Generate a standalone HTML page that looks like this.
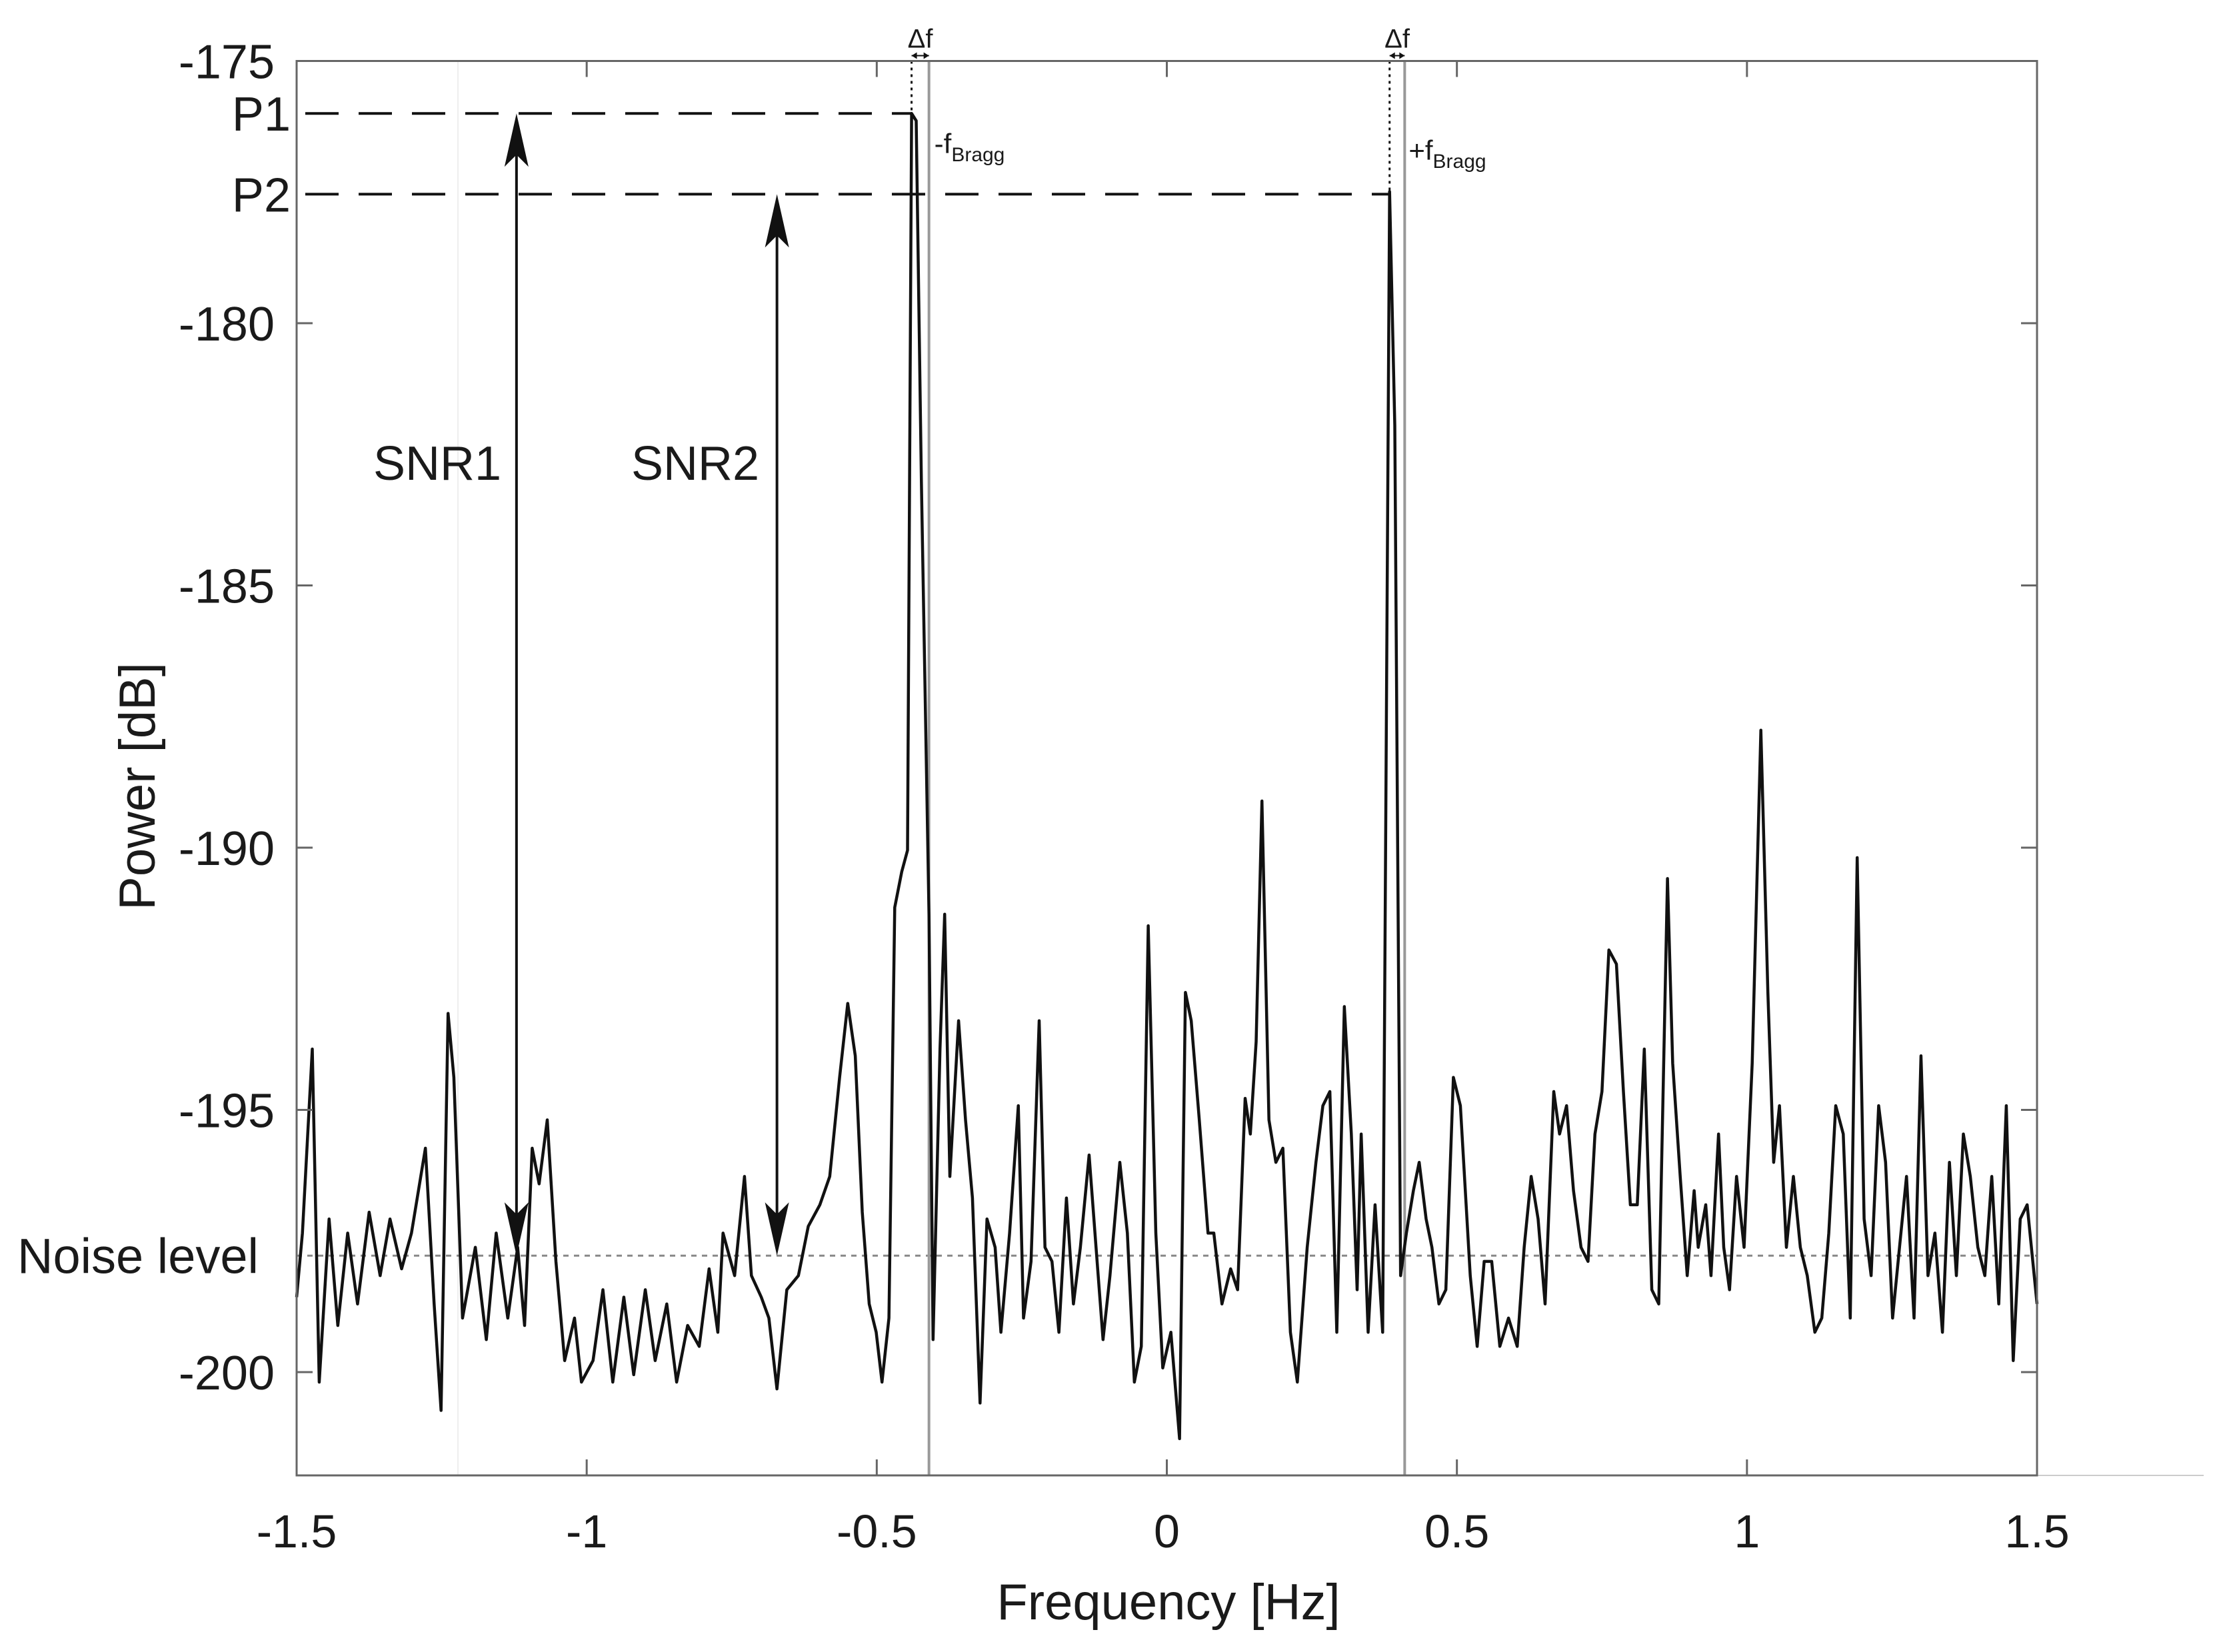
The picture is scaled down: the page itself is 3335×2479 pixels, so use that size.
<!DOCTYPE html>
<html><head><meta charset="utf-8"><style>
html,body{margin:0;padding:0;background:#fff}
svg{display:block}
text{font-family:"Liberation Sans",sans-serif;fill:#1a1a1a}
</style></head><body>
<svg id="chart" width="3335" height="2479" viewBox="0 0 3335 2479" xmlns="http://www.w3.org/2000/svg"></svg>
<script>
const freqs=[-1.500,-1.490,-1.473,-1.461,-1.444,-1.429,-1.412,-1.395,-1.375,-1.356,-1.339,-1.319,-1.302,-1.278,-1.263,-1.251,-1.239,-1.229,-1.214,-1.192,-1.173,-1.156,-1.136,-1.119,-1.107,-1.094,-1.082,-1.068,-1.053,-1.038,-1.021,-1.009,-0.989,-0.972,-0.955,-0.936,-0.919,-0.899,-0.882,-0.862,-0.845,-0.826,-0.806,-0.789,-0.774,-0.765,-0.745,-0.728,-0.716,-0.699,-0.686,-0.672,-0.655,-0.635,-0.618,-0.598,-0.581,-0.564,-0.550,-0.537,-0.525,-0.513,-0.501,-0.491,-0.479,-0.469,-0.457,-0.447,-0.440,-0.432,-0.423,-0.410,-0.403,-0.391,-0.383,-0.374,-0.359,-0.347,-0.335,-0.322,-0.310,-0.296,-0.286,-0.271,-0.256,-0.247,-0.234,-0.220,-0.210,-0.198,-0.186,-0.173,-0.161,-0.149,-0.134,-0.122,-0.110,-0.098,-0.081,-0.068,-0.056,-0.044,-0.032,-0.019,-0.007,0.007,0.022,0.032,0.042,0.056,0.071,0.081,0.095,0.110,0.122,0.135,0.144,0.154,0.164,0.176,0.188,0.200,0.213,0.225,0.242,0.257,0.269,0.281,0.293,0.306,0.318,0.328,0.335,0.347,0.359,0.372,0.384,0.393,0.403,0.413,0.425,0.435,0.447,0.457,0.469,0.481,0.494,0.506,0.523,0.535,0.547,0.560,0.574,0.589,0.604,0.616,0.628,0.640,0.652,0.667,0.677,0.689,0.701,0.714,0.726,0.738,0.750,0.762,0.775,0.787,0.799,0.811,0.823,0.836,0.848,0.863,0.872,0.885,0.897,0.909,0.916,0.929,0.938,0.951,0.960,0.970,0.982,0.995,1.009,1.024,1.036,1.046,1.056,1.068,1.080,1.092,1.104,1.117,1.129,1.141,1.153,1.166,1.178,1.190,1.202,1.214,1.227,1.239,1.251,1.263,1.275,1.288,1.300,1.312,1.324,1.337,1.349,1.361,1.373,1.385,1.398,1.410,1.422,1.434,1.447,1.459,1.471,1.483,1.500];
const power=[-198.57,-197.35,-193.84,-200.19,-197.08,-199.11,-197.35,-198.70,-196.95,-198.16,-197.08,-198.03,-197.35,-195.73,-198.70,-200.73,-193.16,-194.38,-198.97,-197.62,-199.38,-197.35,-198.97,-197.62,-199.11,-195.73,-196.41,-195.19,-197.89,-199.78,-198.97,-200.19,-199.78,-198.43,-200.19,-198.57,-200.05,-198.43,-199.78,-198.70,-200.19,-199.11,-199.51,-198.03,-199.24,-197.35,-198.16,-196.27,-198.16,-198.57,-198.97,-200.32,-198.43,-198.16,-197.22,-196.81,-196.27,-194.38,-192.97,-193.97,-196.95,-198.70,-199.24,-200.19,-198.97,-191.14,-190.46,-190.05,-176.00,-176.14,-183.03,-191.27,-199.38,-193.84,-191.27,-196.27,-193.30,-195.19,-196.68,-200.59,-197.08,-197.62,-199.24,-197.35,-194.92,-198.97,-197.89,-193.30,-197.62,-197.89,-199.24,-196.68,-198.70,-197.62,-195.86,-197.62,-199.38,-198.16,-196.00,-197.35,-200.19,-199.51,-191.49,-197.35,-199.92,-199.24,-201.27,-192.76,-193.30,-195.19,-197.35,-197.35,-198.70,-198.03,-198.43,-194.78,-195.46,-193.70,-189.11,-195.19,-196.00,-195.73,-199.24,-200.19,-197.62,-196.00,-194.92,-194.65,-199.24,-193.03,-195.46,-198.43,-195.46,-199.24,-196.81,-199.24,-177.49,-181.95,-198.16,-197.35,-196.54,-196.00,-197.08,-197.62,-198.70,-198.43,-194.38,-194.92,-198.16,-199.51,-197.89,-197.89,-199.51,-198.97,-199.51,-197.62,-196.27,-197.08,-198.70,-194.65,-195.46,-194.92,-196.54,-197.62,-197.89,-195.46,-194.65,-191.95,-192.22,-194.65,-196.81,-196.81,-193.84,-198.43,-198.70,-190.59,-194.11,-196.27,-198.16,-196.54,-197.62,-196.81,-198.16,-195.46,-197.62,-198.43,-196.27,-197.62,-194.11,-187.76,-192.76,-196.00,-194.92,-197.62,-196.27,-197.62,-198.16,-199.24,-198.97,-197.35,-194.92,-195.46,-198.97,-190.19,-197.08,-198.16,-194.92,-196.00,-198.97,-197.62,-196.27,-198.97,-193.97,-198.16,-197.35,-199.24,-196.00,-198.16,-195.46,-196.27,-197.62,-198.16,-196.27,-198.70,-194.92,-199.78,-197.08,-196.81,-198.70];
const xTicks=[-1.5,-1,-0.5,0,0.5,1,1.5];
const xTickLabels=["-1.5","-1","-0.5","0","0.5","1","1.5"];
const yTicks=[-175,-180,-185,-190,-195,-200];
const yTickLabels=["-175","-180","-185","-190","-195","-200"];
const p1=-176.0, p2=-177.54, noiseLevel=-197.78;
const braggNeg=-0.41, braggPos=0.41, peak1F=-0.440, peak2F=0.384;
const snr1F=-1.121, snr2F=-0.672;

const L=445,R=3056,T=91.5,B=2214;
const X=f=>L+(f+1.5)/3*(R-L);
const Y=d=>T+(-175-d)*(2059-T)/25;
const NS="http://www.w3.org/2000/svg";
const svg=document.getElementById('chart');
function mk(tag,attrs,parent){const e=document.createElementNS(NS,tag);for(const k in attrs)e.setAttribute(k,attrs[k]);(parent||svg).appendChild(e);return e;}

let e=mk('line',{x1:R,y1:B,x2:3306,y2:B,stroke:'#ccc','stroke-width':2});


e=mk('line',{x1:687,y1:T,x2:687,y2:B,stroke:'#eee','stroke-width':2});



e=mk('line',{x1:L,y1:Y(noiseLevel),x2:R,y2:Y(noiseLevel),stroke:'#888','stroke-width':3,'stroke-dasharray':'8 8'});



[braggNeg,braggPos].forEach((b,i)=>{
 const l=mk('line',{x1:X(b),y1:T,x2:X(b),y2:B,stroke:'#999','stroke-width':4});
 
 
});

let d='';freqs.forEach((f,i)=>{d+=(i?'L':'M')+X(f).toFixed(1)+' '+Y(power[i]).toFixed(1);});
e=mk('path',{d:d,fill:'none',stroke:'#111','stroke-width':4.5,'stroke-linejoin':'round'});



[[p1,peak1F,'p1-dashed-line'],[p2,peak2F,'p2-dashed-line']].forEach(a=>{
 const l=mk('line',{x1:458,y1:Y(a[0]),x2:X(a[1]),y2:Y(a[0]),stroke:'#111','stroke-width':4,'stroke-dasharray':'50 30'});
 
 
 const v=mk('line',{x1:X(a[1]),y1:T,x2:X(a[1]),y2:Y(a[0]),stroke:'#111','stroke-width':3,'stroke-dasharray':'4 6'});
 
 
});

function arrow(x,y1,y2,name){
 const g=mk('g',{});
 
 
 mk('line',{x1:x,y1:y1+20,x2:x,y2:y2-20,stroke:'#111','stroke-width':4},g);
 mk('path',{d:`M${x} ${y1} L${x-18} ${y1+80} L${x} ${y1+62} L${x+18} ${y1+80}Z`,fill:'#111'},g);
 mk('path',{d:`M${x} ${y2} L${x-18} ${y2-80} L${x} ${y2-62} L${x+18} ${y2-80}Z`,fill:'#111'},g);
}
arrow(X(snr1F),Y(p1),Y(noiseLevel),'snr1-arrow');
arrow(X(snr2F),Y(p2),Y(noiseLevel),'snr2-arrow');

[[peak1F,braggNeg],[peak2F,braggPos]].forEach((a,i)=>{
 const g=mk('g',{});
 
 
 const x1=X(a[0]),x2=X(a[1]),y=T-8;
 mk('line',{x1:x1,y1:y,x2:x2,y2:y,stroke:'#111','stroke-width':2},g);
 mk('path',{d:`M${x1} ${y} l8 -5 v10z M${x2} ${y} l-8 -5 v10z`,fill:'#111'},g);
 const t=mk('text',{x:(x1+x2)/2,y:T-20,'font-size':40,'text-anchor':'middle'},g);t.textContent='Δf';
});

e=mk('rect',{x:L,y:T,width:R-L,height:B-T,fill:'none',stroke:'#666','stroke-width':3});



xTicks.forEach((v,i)=>{
 const x=X(v);
 mk('line',{x1:x,y1:B,x2:x,y2:B-24,stroke:'#666','stroke-width':3});
 mk('line',{x1:x,y1:T,x2:x,y2:T+24,stroke:'#666','stroke-width':3});
 const t=mk('text',{x:x,y:2322,'font-size':70,'text-anchor':'middle'});
 
 
 t.textContent=xTickLabels[i];
});
yTicks.forEach((v,i)=>{
 const y=Y(v);
 mk('line',{x1:L,y1:y,x2:L+24,y2:y,stroke:'#666','stroke-width':3});
 mk('line',{x1:R,y1:y,x2:R-24,y2:y,stroke:'#666','stroke-width':3});
 const t=mk('text',{x:412,y:y+26,'font-size':72,'text-anchor':'end'});
 
 
 t.textContent=yTickLabels[i];
});

function txt(s,x,y,size,name,anchor,extra){
 const t=mk('text',Object.assign({x:x,y:y,'font-size':size,'text-anchor':anchor||'start'},extra||{}));
 
 
 t.textContent=s;return t;
}
txt('P1',436,Y(p1)+26,72,'p1-label','end');
txt('P2',436,Y(p2)+26,72,'p2-label','end');
txt('SNR1',656,720,72,'snr1-label','middle');
txt('SNR2',1043,720,72,'snr2-label','middle');
txt('Noise level',26,Y(noiseLevel)+26,74,'noise-level-label','start');
txt('Frequency [Hz]',1753,2430,76,'x-axis-title','middle');
txt('Power [dB]',232,1180,76,'y-axis-title','middle',{transform:'rotate(-90 232 1180)'});
let t=txt('-f',X(braggNeg)+8,230,42,'neg-bragg-label','start');
let s=document.createElementNS(NS,'tspan');s.setAttribute('font-size',30);s.setAttribute('dy',12);s.textContent='Bragg';t.appendChild(s);
t=txt('+f',X(braggPos)+6,240,42,'pos-bragg-label','start');
s=document.createElementNS(NS,'tspan');s.setAttribute('font-size',30);s.setAttribute('dy',12);s.textContent='Bragg';t.appendChild(s);
</script>
</body></html>
